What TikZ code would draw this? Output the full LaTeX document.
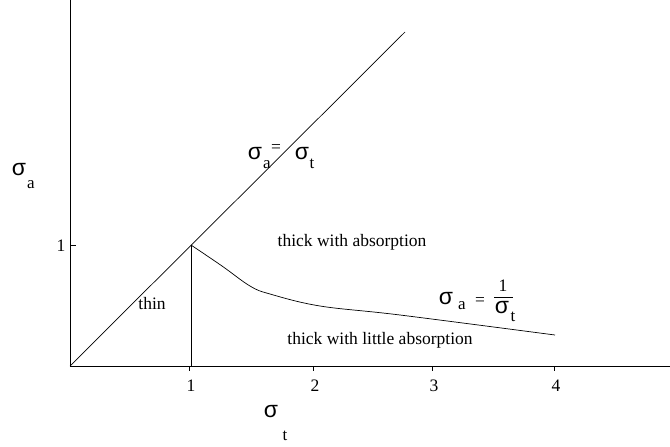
\documentclass[tikz,border=0pt]{standalone}
\usepackage{fontspec}
\setmainfont{Liberation Serif}
\newfontfamily\sigfont{Liberation Sans}
\newcommand{\sgm}{{\sigfont\fontsize{23}{23}\selectfont σ}}
\begin{document}
\begin{tikzpicture}[x=1pt,y=-1pt,
  ax/.style={line width=1pt},
  ln/.style={line width=0.7pt},
  txt/.style={font=\fontsize{17.5}{19}\selectfont, inner sep=0pt, anchor=base},
  sub/.style={font=\fontsize{17}{18}\selectfont, inner sep=0pt, anchor=base},
  sig/.style={inner sep=0pt},
  tick/.style={line width=0.8pt}]
\useasboundingbox (0,0) rectangle (670,447);
% axes
\coordinate (O) at (70,366);
\coordinate (ytop) at (70,0);
\coordinate (xend) at (670,366);
\draw[ax] (ytop) -- (O) -- (xend);
% ticks
\foreach \i/\x in {1/191,2/315,3/434,4/556}{
  \draw[tick] (\x-2,366) -- (\x-2,371);
  \node[txt] at (\x,391) {\i};
}
\draw[tick] (70,245) -- (76,245);
\node[txt] (one) at (61,251) {1};
% lines
\coordinate (P) at (191,245);
\coordinate (Dend) at (405,32);
\coordinate (V) at (191,366);
\draw[ln] (O) -- (Dend);
\draw[ln] (P) -- (V);
\draw[ln] plot[smooth, tension=0.6] coordinates {(191,245) (222,266) (250,286) (270,294) (320,306) (400,315) (555,335)};
% labels
\node[sig] (sa) at (19,170) {\sgm};
\node[sub] at (31,188) {a};
\node[sig] (s1) at (255,154) {\sgm};
\node[sub] at (267,168) {a};
\node[txt] at (276,152) {=};
\node[sig] (s2) at (302,154) {\sgm};
\node[sub] at (312,168) {t};
\node[txt] (tabs) at (352,246) {thick with absorption};
\node[txt] (thin) at (152,309) {thin};
\node[txt] (tlit) at (380,344) {thick with little absorption};
\node[sig] (s3) at (446,299) {\sgm};
\node[sub] at (462,309) {a};
\node[txt] at (480,305) {=};
\node[txt] at (503,291) {1};
\draw[line width=0.8pt] (494,297) -- (513,297);
\node[sig] at (502,308) {\sgm};
\node[sub] at (513,321) {t};
\node[sig] (st) at (271,412) {\sgm};
\node[sub] at (285,440) {t};
\end{tikzpicture}
\end{document}
